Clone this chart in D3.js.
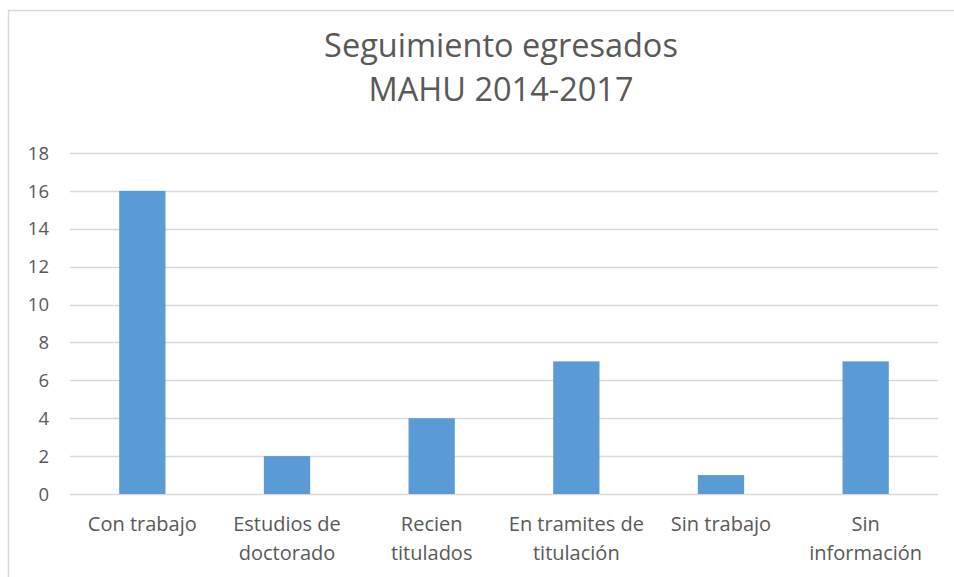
<!DOCTYPE html>
<html><head><meta charset="utf-8">
<script src="https://cdn.jsdelivr.net/npm/d3@7"></script>
<style>body{margin:0;background:#fff;} svg{display:block;}</style>
</head><body>
<svg id="c" width="954" height="577"></svg>
<script>
const categories = [["Con trabajo"],["Estudios de","doctorado"],["Recien","titulados"],["En tramites de","titulación"],["Sin trabajo"],["Sin","información"]];
const values = [16, 2, 4, 7, 1, 7];
const yTicks = [0,2,4,6,8,10,12,14,16,18];
const titleLines = ["Seguimiento egresados","MAHU 2014-2017"];

const svg = d3.select("#c");
const font = "'Open Sans', sans-serif";
svg.append("rect").attr("x",8.5).attr("y",10.5).attr("width",960).attr("height",600)
  .attr("fill","#fff").attr("stroke","#d9d9d9").attr("stroke-width",1.5);

const x = d3.scaleBand().domain(d3.range(categories.length)).range([70,938]).paddingInner(0.68).paddingOuter(0.34);
const y = d3.scaleLinear().domain([0,18]).range([494,153]);

svg.append("g").selectAll("line").data(yTicks).join("line")
  .attr("x1",70).attr("x2",938).attr("y1",d=>Math.round(y(d))+0.5).attr("y2",d=>Math.round(y(d))+0.5)
  .attr("stroke","#d9d9d9").attr("stroke-width",1.3);

svg.append("g").selectAll("text").data(yTicks).join("text")
  .attr("x",49).attr("y",d=>y(d)).attr("dy","0.36em").attr("text-anchor","end")
  .attr("font-family",font).attr("font-size",18.5).attr("fill","#595959").text(d=>d);

svg.append("g").selectAll("rect").data(values).join("rect")
  .attr("x",(d,i)=>x(i)).attr("width",x.bandwidth())
  .attr("y",d=>y(d)).attr("height",d=>y(0)-y(d)).attr("fill","#5b9bd5");

const lab = svg.append("g").selectAll("text").data(categories).join("text")
  .attr("x",(d,i)=>x(i)+x.bandwidth()/2).attr("y",531).attr("text-anchor","middle")
  .attr("font-family",font).attr("font-size",20).attr("fill","#595959");
lab.selectAll("tspan").data(d=>d).join("tspan")
  .attr("x",function(){return this.parentNode.getAttribute("x");})
  .attr("dy",(d,i)=>i===0?0:29).text(d=>d);

svg.append("g").selectAll("text").data(titleLines).join("text")
  .attr("x",501).attr("y",(d,i)=>57+i*44).attr("text-anchor","middle")
  .attr("font-family",font).attr("font-size",32.5).attr("fill","#595959").text(d=>d);
</script>
</body></html>
